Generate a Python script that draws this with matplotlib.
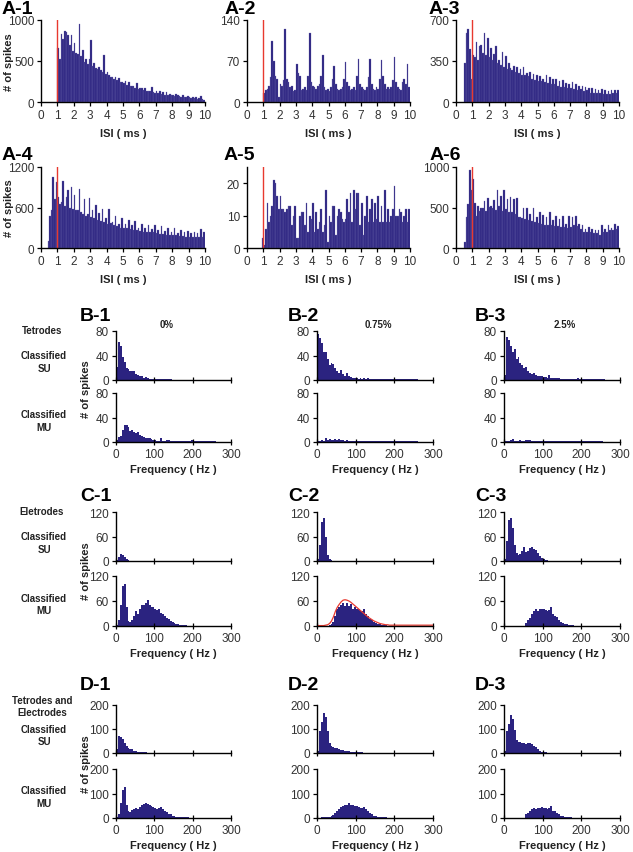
import matplotlib
matplotlib.use("Agg")
import matplotlib.pyplot as plt
import numpy as np

plt.rcParams['font.family'] = ['Liberation Sans', 'DejaVu Sans']

W, H = 633, 853
BAR = '#2B2380'
RED = '#E8392F'
TXT = '#222222'

# ---- ISI histograms (0.1 ms bins), first bin start and counts ----
a1_start = 1.0
a1 = [660, 530, 830, 770, 870, 850, 820, 700, 820, 620, 720, 600, 590, 950, 560, 640, 490, 530, 460, 530,
      760, 440, 480, 420, 400, 430, 390, 370, 570, 340, 360, 330, 300, 310, 280, 300, 270, 290, 250, 240,
      230, 260, 210, 250, 200, 200, 190, 170, 230, 160, 170, 170, 150, 170, 140, 140, 130, 180, 120, 110,
      130, 110, 130, 100, 120, 90, 120, 90, 100, 80, 90, 70, 100, 80, 70, 60, 80, 60, 60, 70,
      60, 50, 60, 50, 60, 40, 50, 70, 40, 30]
a2_start = 1.0
a2 = [15, 20, 22, 28, 42, 105, 70, 45, 40, 8, 30, 28, 38, 125, 40, 35, 25, 28, 18, 20,
      65, 50, 45, 20, 22, 25, 20, 45, 118, 35, 28, 25, 22, 28, 30, 45, 80, 25, 20, 22,
      18, 25, 40, 61, 30, 22, 20, 22, 25, 40, 68, 35, 28, 20, 22, 25, 20, 45, 74, 30,
      25, 22, 20, 25, 42, 74, 30, 22, 20, 25, 22, 40, 72, 45, 30, 22, 25, 22, 25, 38,
      76, 35, 25, 22, 20, 35, 40, 30, 65, 25]
a3_start = 0.5
a3 = [330, 590, 620, 450, 200, 400, 380, 510, 360, 480, 490, 420, 590, 400, 550, 380, 460, 360, 410, 480,
      330, 360, 320, 430, 300, 390, 280, 330, 290, 270, 310, 260, 300, 250, 280, 230, 300, 230, 250, 220,
      260, 200, 240, 190, 230, 180, 220, 180, 200, 170, 230, 160, 210, 150, 200, 150, 200, 140, 180, 130,
      190, 130, 160, 120, 150, 120, 170, 110, 150, 100, 140, 110, 140, 90, 130, 100, 120, 80, 120, 80,
      110, 80, 100, 80, 110, 70, 100, 70, 90, 70, 100, 80, 100, 80, 100]
a4_start = 0.4
a4 = [100, 480, 560, 1050, 720, 980, 760, 650, 680, 1000, 620, 760, 860, 600, 900, 580, 780, 560, 560, 880,
      540, 500, 720, 480, 500, 740, 460, 560, 440, 640, 420, 520, 400, 580, 380, 440, 360, 580, 370, 380,
      340, 480, 330, 360, 300, 440, 290, 360, 290, 420, 280, 340, 260, 400, 260, 300, 250, 360, 240, 290,
      240, 340, 230, 280, 230, 340, 220, 260, 210, 330, 210, 250, 200, 300, 190, 240, 200, 300, 190, 220,
      180, 260, 180, 230, 170, 250, 170, 220, 170, 230, 160, 220, 170, 280, 160, 240]
a5_start = 0.9
a5 = [3, 1, 6, 14, 8, 10, 13, 21, 20, 16, 12, 16, 12, 12, 11, 12, 13, 13, 7, 10,
      13, 3, 3, 10, 11, 11, 7, 14, 5, 10, 9, 14, 5, 11, 6, 8, 12, 5, 7, 18,
      2, 10, 8, 13, 13, 4, 10, 12, 11, 9, 8, 9, 15, 11, 17, 8, 18, 12, 17, 17,
      7, 14, 4, 10, 16, 8, 12, 15, 8, 14, 9, 16, 8, 13, 8, 18, 8, 12, 8, 10,
      12, 19, 10, 10, 12, 11, 8, 10, 12, 8, 12]
a6_start = 0.5
a6 = [80, 380, 540, 960, 720, 850, 560, 400, 520, 460, 500, 490, 580, 460, 620, 510, 520, 500, 590, 470,
      720, 520, 640, 460, 720, 480, 600, 440, 630, 450, 600, 420, 620, 380, 380, 370, 500, 360, 500, 340,
      420, 330, 500, 320, 380, 310, 440, 300, 410, 290, 380, 280, 440, 280, 350, 270, 400, 270, 360, 260,
      400, 260, 300, 250, 400, 260, 380, 290, 400, 270, 300, 230, 290, 200, 240, 200, 260, 200, 240, 190,
      220, 180, 220, 160, 290, 200, 240, 200, 290, 220, 250, 220, 300, 230, 270]

# ---- firing-frequency histograms (5 Hz bins from 0 Hz) ----
b1_su = [22, 62, 55, 38, 30, 20, 18, 15, 14, 15, 10, 8, 7, 6, 4, 5, 3, 2, 2, 1, 1, 1, 1, 1, 1, 2, 1, 1, 1]
b1_mu = [3, 8, 10, 20, 27, 27, 25, 18, 20, 16, 15, 16, 12, 10, 8, 7, 6, 6, 5, 4, 3, 2, 2, 6, 2, 2, 3, 3, 2,
         2, 2, 1, 2, 1, 2, 1, 2, 1, 2, 3, 1, 1, 1, 1, 1, 1, 1, 1, 1, 1, 1, 1]
b2_su = [75, 68, 60, 45, 45, 35, 25, 28, 26, 20, 15, 12, 16, 10, 7, 12, 6, 5, 3, 4, 3, 2, 3, 2, 3, 2, 3, 2, 1,
         1, 1, 1, 1, 1, 1, 1, 1, 1, 1, 1, 2, 1, 1, 1, 1, 1, 1, 1, 1, 1, 1, 1]
b2_mu = [1, 2, 3, 2, 6, 4, 5, 3, 3, 5, 4, 5, 4, 3, 2, 3, 2, 2, 1, 2, 1, 1, 1, 1, 1, 1, 1, 1, 1, 1, 1, 1, 1, 1,
         1, 1, 1, 1, 2, 1, 1, 1, 1, 1, 1, 1, 1, 1, 1, 1, 1, 1]
b3_su = [8, 70, 65, 55, 45, 50, 35, 38, 28, 24, 20, 22, 15, 12, 10, 12, 8, 7, 6, 6, 5, 5, 4, 8, 3, 3, 4, 4, 3,
         2, 2, 2, 2, 1, 2, 1, 2, 1, 3, 2, 1, 1, 1, 1, 1, 1, 1, 1, 1, 1, 2, 1]
b3_mu = [1, 1, 2, 3, 5, 2, 2, 2, 3, 2, 2, 3, 4, 3, 2, 2, 2, 1, 1, 1, 1, 1, 2, 1, 1, 1, 1, 1, 2, 1, 1, 1, 1, 1,
         1, 1, 1, 1, 1, 1, 1, 1, 1, 1, 1, 1, 1, 1, 1, 1, 1]
c1_su = [3, 10, 17, 14, 10, 5, 2, 1]
c1_mu = [2, 15, 50, 95, 100, 45, 12, 10, 15, 25, 35, 28, 40, 50, 50, 55, 62, 50, 45, 45, 40, 38, 40, 32, 30,
         25, 20, 18, 12, 10, 8, 6, 5, 3, 3, 2, 2, 1, 1, 1, 1, 1, 1, 1, 1, 1, 1, 1]
c2_su = [5, 40, 95, 105, 60, 15, 5, 2, 1]
c2_mu = [1, 1, 1, 1, 1, 1, 2, 5, 10, 25, 40, 45, 50, 55, 48, 55, 48, 52, 40, 45, 42, 40, 38, 35, 42, 30, 25,
         18, 15, 10, 8, 6, 5, 3, 2, 2, 1, 1, 1, 1, 1, 1, 1, 1, 1, 1, 1, 1, 1, 1]
c2_fit = [1, 1, 1, 1, 2, 3, 6, 12, 22, 35, 45, 52, 58, 62, 63, 62, 60, 57, 53, 49, 45, 41, 37, 33, 29, 25,
          21, 18, 15, 12, 10, 8, 6, 5, 4, 3, 3, 2, 2, 2, 2, 2, 2, 2, 2, 2, 2, 2, 2, 2, 2, 2, 2, 2, 2, 2,
          2, 2, 2, 2, 2]
c3_su = [5, 50, 100, 105, 80, 40, 20, 15, 18, 25, 35, 22, 25, 32, 35, 30, 28, 20, 12, 8, 5, 3, 2, 1]
c3_mu = [0, 0, 0, 0, 0, 0, 0, 0, 0, 0, 0, 8, 15, 20, 28, 35, 40, 35, 40, 42, 40, 38, 35, 38, 45, 30, 25, 22,
         15, 10, 8, 6, 5, 3, 2, 2, 1, 1]
d1_su = [15, 70, 65, 60, 40, 30, 22, 15, 15, 10, 8, 6, 5, 4, 3, 3, 2, 2, 2, 1, 1, 1, 1, 1, 1, 1, 1, 1, 1, 1]
d1_mu = [5, 15, 60, 115, 128, 55, 30, 25, 32, 35, 40, 35, 45, 55, 58, 60, 58, 52, 50, 45, 42, 38, 40, 45, 35,
         30, 25, 18, 15, 10, 8, 6, 5, 5, 4, 4, 3, 3, 2, 2, 1, 1, 1, 1, 1, 1, 1, 1, 1, 1, 1, 1]
d2_su = [10, 90, 130, 165, 150, 90, 40, 30, 25, 22, 20, 15, 13, 12, 10, 8, 7, 6, 5, 5, 4, 4, 3, 3, 2, 2, 2,
         1, 2, 1, 1, 1, 1, 1, 1, 1]
d2_mu = [1, 2, 3, 5, 6, 4, 3, 8, 12, 20, 28, 38, 45, 48, 52, 55, 62, 55, 52, 48, 50, 45, 42, 40, 45, 35, 28,
         20, 15, 10, 8, 6, 5, 4, 3, 3, 2, 1, 1, 1, 1, 1, 1]
d3_su = [10, 90, 120, 160, 140, 95, 55, 45, 45, 40, 42, 38, 40, 42, 38, 30, 25, 15, 8, 5, 6, 3, 2, 2, 1, 1,
         1, 1, 1, 1]
d3_mu = [0, 0, 0, 0, 0, 2, 0, 0, 0, 0, 0, 15, 22, 28, 35, 42, 38, 40, 42, 45, 42, 40, 38, 42, 48, 30, 28, 20,
         15, 10, 8, 6, 5, 4, 3, 2, 2, 2, 1, 1]


def box(x0, x1, y0, y1):
    return [x0 / W, 1 - y1 / H, (x1 - x0) / W, (y1 - y0) / H]


def ftext(x, y, s, **kw):
    fig.text(x / W, 1 - y / H, s, **kw)


def style(ax):
    for s in ('top', 'right'):
        ax.spines[s].set_visible(False)
    for s in ('left', 'bottom'):
        ax.spines[s].set_linewidth(1.0)
        ax.spines[s].set_color('black')
    ax.tick_params(labelsize=8.5, labelcolor='#333333', length=3, width=0.9, pad=2)


fig = plt.figure(figsize=(W / 100, H / 100), dpi=100)

# ---------------- A panels ----------------
a_panels = [
    ('A-1', a1_start, a1, 1000, [0, 500, 1000], (41, 205), (21, 103), 2),
    ('A-2', a2_start, a2, 140, [0, 70, 140], (247, 410), (21, 103), 225),
    ('A-3', a3_start, a3, 700, [0, 350, 700], (456, 619), (21, 103), 429),
    ('A-4', a4_start, a4, 1200, [0, 600, 1200], (41, 205), (168, 249), 2),
    ('A-5', a5_start, a5, 25, [0, 10, 20], (247, 410), (168, 249), 224),
    ('A-6', a6_start, a6, 1000, [0, 500, 1000], (456, 619), (168, 249), 430),
]
for name, start, vals, top, yt, (x0, x1), (y0, y1), lx in a_panels:
    ax = fig.add_axes(box(x0, x1, y0, y1))
    xs = start + 0.1 * np.arange(len(vals))
    ax.bar(xs, vals, width=0.1, align='edge', color=BAR, edgecolor='#6f68b0', linewidth=0.2)
    ax.plot([1, 1], [0, top], color=RED, lw=1.0)
    ax.set_xlim(0, 10)
    ax.set_ylim(0, top)
    ax.set_xticks(range(11))
    ax.set_yticks(yt)
    style(ax)
    ax.set_xlabel('ISI ( ms )', fontsize=8, fontweight='bold', color=TXT, labelpad=5)
    if name in ('A-1', 'A-4'):
        ftext(9, (y0 + y1) / 2, '# of spikes', fontsize=8, fontweight='bold', color=TXT,
              rotation=90, ha='center', va='center')
    ftext(lx, y0 - 12, name, fontsize=14, fontweight='bold', va='center', ha='left')

# ---------------- B / C / D panels ----------------
sections = [
    ('B', [b1_su, b2_su, b3_su], [b1_mu, b2_mu, b3_mu], 80, [0, 40, 80],
     (332, 381), (394, 443), 317, 'Tetrodes'),
    ('C', [c1_su, c2_su, c3_su], [c1_mu, c2_mu, c3_mu], 120, [0, 60, 120],
     (513, 562), (577, 627), 497, 'Eletrodes'),
    ('D', [d1_su, d2_su, d3_su], [d1_mu, d2_mu, d3_mu], 200, [0, 100, 200],
     (706, 754), (770, 819), 686, 'Tetrodes and\nElectrodes'),
]
col_x = [(116, 231), (317, 433), (504, 620)]
lab_x = [80, 288, 475]

for sec, sus, mus, top, yt, (sy0, sy1), (my0, my1), ly, head in sections:
    for i in range(3):
        x0, x1 = col_x[i]
        for kind, vals, (y0, y1) in (('SU', sus[i], (sy0, sy1)), ('MU', mus[i], (my0, my1))):
            ax = fig.add_axes(box(x0, x1, y0, y1))
            xs = 5 * np.arange(len(vals))
            ax.bar(xs, vals, width=5, align='edge', color=BAR, linewidth=0)
            if sec == 'C' and i == 1 and kind == 'MU':
                ax.plot(5 * np.arange(len(c2_fit)) + 2.5, c2_fit, color=RED, lw=0.9)
            ax.set_xlim(0, 300)
            ax.set_ylim(0, top)
            ax.set_xticks([0, 100, 200, 300])
            ax.set_yticks(yt)
            style(ax)
            ax.tick_params(axis='x', direction='inout', length=4)
            if kind == 'SU':
                ax.tick_params(axis='x', labelbottom=False)
            else:
                ax.set_xlabel('Frequency ( Hz )', fontsize=8, fontweight='bold', color=TXT, labelpad=3)
        ftext(lab_x[i], ly, '%s-%d' % (sec, i + 1), fontsize=14, fontweight='bold', va='center', ha='left')
    ftext(86, (sy1 + my0) / 2 + 2, '# of spikes', fontsize=8, fontweight='bold', color=TXT,
          rotation=90, ha='center', va='center')
    hy = sy0 - 1 if sec != 'D' else sy0 + 1
    ftext(42, hy, head, fontsize=7, fontweight='bold', color=TXT, ha='center', va='center',
          linespacing=1.2)
    ftext(44, (sy0 + sy1) / 2 + 6, 'Classified\nSU', fontsize=7, fontweight='bold', color=TXT,
          ha='center', va='center', linespacing=1.3)
    ftext(44, (my0 + my1) / 2 + 3, 'Classified\nMU', fontsize=7, fontweight='bold', color=TXT,
          ha='center', va='center', linespacing=1.3)

for x, s in ((167, '0%'), (378, '0.75%'), (565, '2.5%')):
    ftext(x, 325, s, fontsize=7, fontweight='bold', color=TXT, ha='center', va='center')

fig.savefig('out.png', dpi=100)
